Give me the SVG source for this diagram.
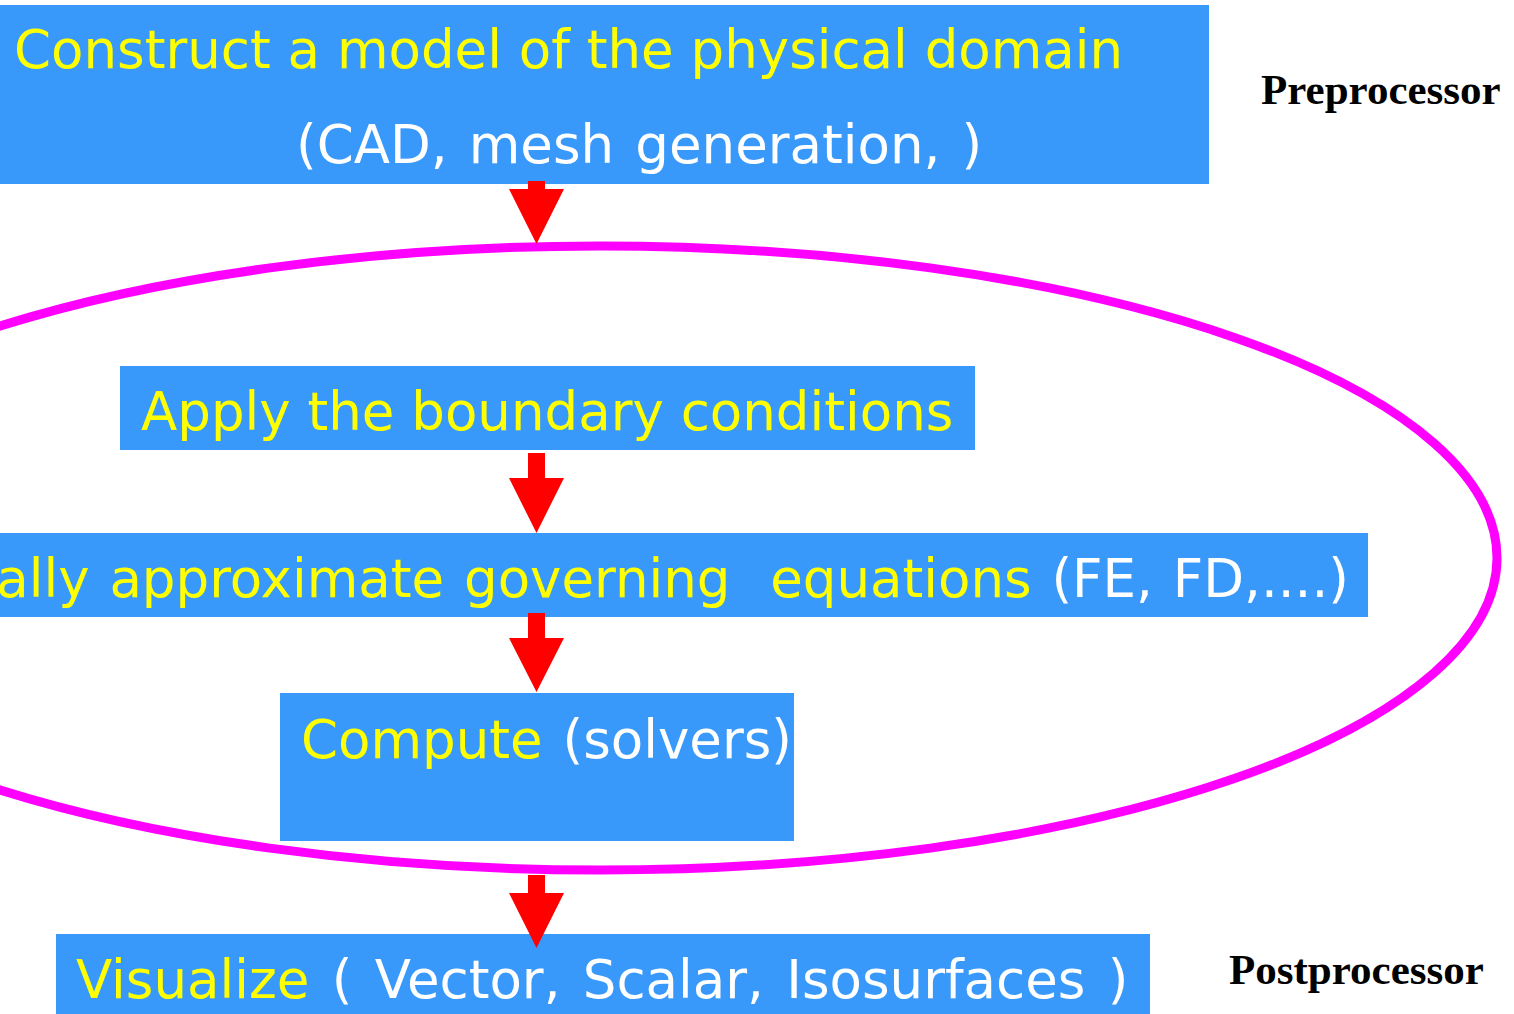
<svg xmlns="http://www.w3.org/2000/svg" width="1514" height="1014" viewBox="0 0 1514 1014">
  <style>
    .box { fill: #3899FB; }
    .t { font-family: "DejaVu Sans", Verdana, sans-serif; font-size: 53px; white-space: pre; }
    .y { fill: #FFFF00; }
    .w { fill: #FFFFFF; }
    .lbl { font-family: "Liberation Serif", "Times New Roman", serif; font-size: 43px; font-weight: bold; fill: #000000; }
    .arrow { fill: #FF0000; }
    .loop { fill: none; stroke: #FF00FF; stroke-width: 9; }
  </style>
  <rect width="1514" height="1014" fill="#FFFFFF"/>

  <!-- iteration loop -->
  <ellipse class="loop" cx="600" cy="558" rx="897" ry="312"/>

  <g id="preprocess">
    <rect class="box" x="0" y="5" width="1209" height="179"/>
    <text class="t y" x="14" y="68">Construct a model of the physical domain</text>
    <text class="t w" x="296" y="163" word-spacing="4.3">(CAD, mesh generation, )</text>
  </g>

  <g id="boundary">
    <rect class="box" x="120" y="366" width="855" height="84"/>
    <text class="t y" x="141" y="430">Apply the boundary conditions</text>
  </g>

  <g id="approximate">
    <rect class="box" x="0" y="533" width="1368" height="84"/>
    <text class="t" x="1349" y="597" text-anchor="end" word-spacing="3" xml:space="preserve"><tspan class="y">ally approximate governing  equations</tspan><tspan class="w"> (FE, FD,....)</tspan></text>
  </g>

  <g id="compute">
    <rect class="box" x="280" y="693" width="514" height="148"/>
    <text class="t" x="301" y="758" word-spacing="3"><tspan class="y">Compute</tspan><tspan class="w"> (solvers)</tspan></text>
  </g>

  <g id="visualize">
    <rect class="box" x="56" y="934" width="1094" height="80"/>
    <text class="t" x="76" y="998" word-spacing="5.5"><tspan class="y">Visualize</tspan><tspan class="w"> ( Vector, Scalar, Isosurfaces )</tspan></text>
  </g>

  <g id="preprocessor-label">
    <text class="lbl" x="1261" y="104">Preprocessor</text>
  </g>
  <g id="postprocessor-label">
    <text class="lbl" x="1229" y="984">Postprocessor</text>
  </g>

  <g id="connectors">
    <polygon class="arrow" points="528,181 545,181 545,189 564,189 536.5,244 509,189 528,189"/>
    <polygon class="arrow" points="528,453 545,453 545,478 564,478 536.5,533 509,478 528,478"/>
    <polygon class="arrow" points="528,613 545,613 545,638 564,638 536.5,692 509,638 528,638"/>
    <polygon class="arrow" points="528,875 545,875 545,893 564,893 536.5,948 509,893 528,893"/>
  </g>
</svg>
